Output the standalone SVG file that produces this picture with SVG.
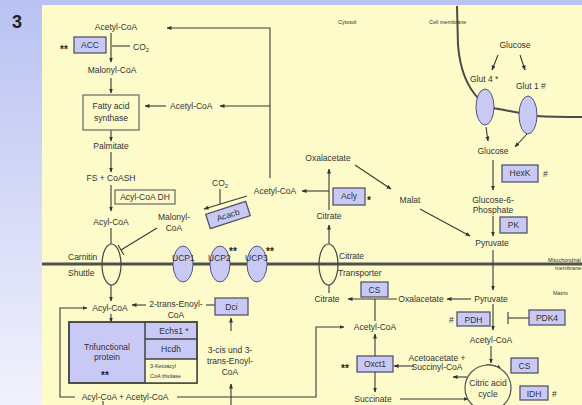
<svg xmlns="http://www.w3.org/2000/svg" width="582" height="405" viewBox="0 0 582 405">
<defs>
<linearGradient id="bg" x1="0" y1="0" x2="0" y2="1">
<stop offset="0" stop-color="#b9c2f2"/>
<stop offset="1" stop-color="#f2f2fc"/>
</linearGradient>
<marker id="ah" viewBox="0 0 10 10" refX="9" refY="5" markerWidth="5" markerHeight="5" orient="auto-start-reverse" markerUnits="userSpaceOnUse">
<path d="M0,1 L10,5 L0,9 z" fill="#333"/>
</marker>
<style>
text{font-family:"Liberation Sans",Arial,sans-serif;fill:#333;}
.t{font-size:8.5px;text-anchor:middle;}
.tl{font-size:8.5px;}
.s{font-size:5.5px;}
.m{font-size:10px;font-weight:bold;fill:#222;}
.enz{fill:#c9c9f5;stroke:#55556a;stroke-width:1.3;}
.plain{fill:#fdfbc9;stroke:#666;stroke-width:1.2;}
.tp{fill:#c9c9f5;stroke:#55557a;stroke-width:1;}
.ch{fill:none;stroke:#444;stroke-width:1.2;}
.c{fill:none;stroke:#3a3a3a;stroke-width:1.1;}
.a{fill:none;stroke:#3a3a3a;stroke-width:1.1;marker-end:url(#ah);}
.mem{fill:none;stroke:#4a4a4a;stroke-width:2;}
</style>
</defs>
<rect x="0" y="0" width="582" height="405" fill="url(#bg)"/>
<rect x="42" y="5" width="540" height="400" fill="#fdfbc9"/>
<text x="12" y="28" style="font-size:18px;font-weight:bold;fill:#222">3</text>

<g id="membranes">
<line x1="42" y1="264" x2="582" y2="264" stroke="#505050" stroke-width="3"/>
<path class="mem" d="M457,6 L458,45 C460,70 468,88 479,99"/>
<path class="mem" d="M493,108 C503,110 511,111 520,113"/>
<path class="mem" d="M536,116 C552,117 566,117 582,117"/>
<text class="s" x="338" y="24">Cytosol</text>
<text class="s" x="429" y="24">Cell membrane</text>
<text class="s" x="548" y="262">Mitochondrial</text>
<text class="s" x="555" y="270">membrane</text>
<text class="s" x="553" y="295">Matrix</text>
</g>

<g id="connectors">
<path class="a" d="M270,178 L270,28 L167,28"/>
<line class="a" x1="111" y1="33" x2="111" y2="62"/>
<line class="c" x1="112" y1="46" x2="130" y2="46"/>
<line class="a" x1="111" y1="78" x2="111" y2="93"/>
<line class="a" x1="166" y1="106" x2="145" y2="106"/>
<line class="a" x1="270" y1="106" x2="220" y2="106"/>
<line class="a" x1="111" y1="130" x2="111" y2="141"/>
<line class="a" x1="111" y1="152" x2="111" y2="172"/>
<line class="a" x1="111" y1="185" x2="111" y2="211"/>
<line class="c" x1="111" y1="228" x2="111" y2="244"/>
<line class="c" x1="157" y1="228" x2="121" y2="250"/>
<line class="c" x1="118" y1="245" x2="124" y2="255"/>
<line class="a" x1="111" y1="285" x2="111" y2="301"/>
<line class="a" x1="247" y1="196" x2="204" y2="209"/>
<line class="c" x1="220" y1="189" x2="220" y2="204"/>
<line class="a" x1="329" y1="244" x2="329" y2="225"/>
<line class="a" x1="329" y1="210" x2="329" y2="169"/>
<line class="a" x1="329" y1="191" x2="302" y2="191"/>
<line class="a" x1="355" y1="165" x2="391" y2="189"/>
<line class="a" x1="420" y1="209" x2="470" y2="236"/>
<line class="a" x1="498" y1="55" x2="492" y2="70"/>
<line class="a" x1="520" y1="55" x2="525" y2="70"/>
<line class="a" x1="486" y1="127" x2="488" y2="141"/>
<line class="a" x1="527" y1="134" x2="515" y2="147"/>
<line class="a" x1="493" y1="160" x2="493" y2="190"/>
<line class="a" x1="493" y1="216" x2="493" y2="236"/>
<line class="a" x1="493" y1="250" x2="493" y2="290"/>
<line class="a" x1="471" y1="299" x2="447" y2="299"/>
<line class="a" x1="397" y1="299" x2="348" y2="299"/>
<line class="c" x1="375" y1="299" x2="375" y2="321"/>
<line class="c" x1="329" y1="293" x2="329" y2="285"/>
<line class="a" x1="493" y1="304" x2="493" y2="330"/>
<line class="c" x1="529" y1="318" x2="508" y2="318"/>
<line class="c" x1="508" y1="312" x2="508" y2="324"/>
<line class="a" x1="491" y1="346" x2="491" y2="363"/>
<line class="a" x1="375" y1="356" x2="375" y2="334"/>
<line class="a" x1="375" y1="372" x2="375" y2="392"/>
<line class="a" x1="414" y1="366" x2="394" y2="366"/>
<line class="a" x1="467" y1="377" x2="453" y2="377"/>
<line class="a" x1="400" y1="399" x2="468" y2="399"/>
<path class="a" d="M486,365 A23,23 0 0 1 501,369"/>
<path class="a" d="M75,397 L60,397 L60,308 L87,308"/>
<path class="a" d="M177,397 L316,397 L316,327 L344,327"/>
<line class="c" x1="103" y1="401" x2="103" y2="405"/>
<line class="a" x1="231" y1="405" x2="231" y2="384"/>
<line class="a" x1="231" y1="331" x2="231" y2="318"/>
<line class="c" x1="215" y1="305" x2="206" y2="305"/>
<line class="a" x1="146" y1="305" x2="132" y2="305"/>
<line class="a" x1="111" y1="314" x2="111" y2="322"/>
</g>

<g id="acetylcoa1"><text class="t" x="116" y="30">Acetyl-CoA</text></g>
<g id="acc"><rect class="enz" x="74" y="37" width="32" height="16"/><text class="t" x="90" y="48">ACC</text><text class="m" x="60" y="53">**</text></g>
<g id="co2a"><text class="tl" x="133" y="50">CO<tspan style="font-size:6px" dy="2">2</tspan></text></g>
<g id="malonylcoa1"><text class="t" x="112" y="73">Malonyl-CoA</text></g>
<g id="fas"><rect class="plain" x="83" y="95" width="56" height="35"/><text class="t" x="111" y="109">Fatty acid</text><text class="t" x="111" y="121">synthase</text></g>
<g id="acetylcoa2"><text class="tl" x="170" y="109">Acetyl-CoA</text></g>
<g id="palmitate"><text class="t" x="111" y="149">Palmitate</text></g>
<g id="fscoash"><text class="t" x="111" y="181">FS + CoASH</text></g>
<g id="acyldh"><rect class="plain" x="115" y="190" width="60" height="14"/><text class="t" x="145" y="200">Acyl-CoA DH</text></g>
<g id="acylcoa1"><text class="t" x="111" y="225">Acyl-CoA</text></g>
<g id="malonylcoa2"><text class="t" x="174" y="220">Malonyl-</text><text class="t" x="174" y="231">CoA</text></g>
<g id="carnitin"><ellipse class="ch" cx="111.5" cy="264.5" rx="9.5" ry="20.5"/><text class="tl" x="68" y="260">Carnitin</text><text class="tl" x="68" y="276">Shuttle</text></g>
<g id="ucp1"><ellipse class="tp" cx="183" cy="264" rx="10" ry="18"/><text class="tl" x="172" y="261">UCP1</text></g>
<g id="ucp2"><ellipse class="tp" cx="220" cy="264" rx="10" ry="18"/><text class="tl" x="208" y="261">UCP2</text><text class="m" x="229" y="255">**</text></g>
<g id="ucp3"><ellipse class="tp" cx="257" cy="264" rx="10" ry="18"/><text class="tl" x="245" y="261">UCP3</text><text class="m" x="266" y="255">**</text></g>
<g id="co2b"><text class="tl" x="212" y="186">CO<tspan style="font-size:6px" dy="2">2</tspan></text></g>
<g id="acacb"><g transform="translate(228,215) rotate(-18)"><rect class="enz" x="-21" y="-7.5" width="42" height="15"/><text class="t" x="0" y="3">Acacb</text></g></g>
<g id="acetylcoa3"><text class="t" x="275" y="194">Acetyl-CoA</text></g>
<g id="oxalacetate1"><text class="t" x="328" y="161">Oxalacetate</text></g>
<g id="acly"><rect class="enz" x="333" y="188" width="32" height="17"/><text class="t" x="349" y="199">Acly</text><text class="m" x="367" y="204">*</text></g>
<g id="citrate1"><text class="t" x="329" y="219">Citrate</text></g>
<g id="malat"><text class="t" x="410" y="203">Malat</text></g>
<g id="glucose1"><text class="t" x="515" y="48">Glucose</text></g>
<g id="glut4"><ellipse class="tp" cx="485" cy="107" rx="9" ry="18"/><text class="tl" x="470" y="82">Glut 4 *</text></g>
<g id="glut1"><ellipse class="tp" cx="528" cy="115" rx="9" ry="19"/><text class="tl" x="516" y="89">Glut 1 #</text></g>
<g id="glucose2"><text class="t" x="493" y="154">Glucose</text></g>
<g id="hexk"><rect class="enz" x="502" y="165" width="36" height="17"/><text class="t" x="520" y="176">HexK</text><text class="tl" x="543" y="177">#</text></g>
<g id="g6p"><text class="t" x="493" y="203">Glucose-6-</text><text class="t" x="493" y="213">Phosphate</text></g>
<g id="pk"><rect class="enz" x="500" y="217" width="27" height="16"/><text class="t" x="513.5" y="228">PK</text></g>
<g id="pyruvate1"><text class="t" x="492" y="246">Pyruvate</text></g>
<g id="citratetransporter"><ellipse class="ch" cx="328.5" cy="264.5" rx="9.5" ry="20.5"/><text class="tl" x="339" y="259">Citrate</text><text class="tl" x="338" y="276">Transporter</text></g>
<g id="pyruvate2"><text class="t" x="491" y="302">Pyruvate</text></g>
<g id="oxalacetate2"><text class="t" x="421" y="302">Oxalacetate</text></g>
<g id="cs1"><rect class="enz" x="361" y="282" width="27" height="15"/><text class="t" x="374.5" y="292.5">CS</text></g>
<g id="citrate2"><text class="t" x="327" y="302">Citrate</text></g>
<g id="acetylcoa4"><text class="t" x="375" y="330">Acetyl-CoA</text></g>
<g id="acylcoa2"><text class="t" x="110" y="311">Acyl-CoA</text></g>
<g id="enoylcoa"><text class="t" x="176" y="307">2-trans-Enoyl-</text><text class="t" x="176" y="318">CoA</text></g>
<g id="dci"><rect class="enz" x="215" y="298" width="33" height="17"/><text class="t" x="231.5" y="309.5">Dci</text></g>
<g id="cisenoyl"><text class="t" x="230" y="353">3-cis und 3-</text><text class="t" x="230" y="364">trans-Enoyl-</text><text class="t" x="230" y="375">CoA</text></g>
<g id="trifunctional">
<rect x="69" y="322" width="128" height="61" fill="#c9c9f5" stroke="#444" stroke-width="1.5"/>
<rect x="145" y="359" width="52" height="24" fill="#fdfbc9"/>
<path d="M145,322 L145,383 M145,339 L197,339 M145,359 L197,359" stroke="#444" stroke-width="1.5" fill="none"/>
<rect x="69" y="322" width="128" height="61" fill="none" stroke="#444" stroke-width="1.5"/>
<text class="t" x="107" y="350">Trifunctional</text>
<text class="t" x="107" y="360">protein</text>
<text class="m" x="101" y="379">**</text>
<text class="t" x="174" y="334">Echs1 *</text>
<text class="t" x="171" y="352">Hcdh</text>
<text class="s" x="150" y="368">3-Ketoacyl</text>
<text class="s" x="150" y="378">CoA thiolase</text>
</g>
<g id="acylacetyl"><text class="t" x="125" y="400">Acyl-CoA + Acetyl-CoA</text></g>
<g id="pdh"><rect class="enz" x="457" y="312" width="33" height="14"/><text class="t" x="473.5" y="322.5">PDH</text><text class="tl" x="449" y="323">#</text></g>
<g id="pdk4"><rect class="enz" x="529" y="310" width="36" height="15"/><text class="t" x="547" y="320.5">PDK4</text></g>
<g id="acetylcoa5"><text class="t" x="491" y="343">Acetyl-CoA</text></g>
<g id="acetoacetate"><text class="t" x="437" y="361">Acetoacetate +</text><text class="t" x="437" y="370">Succinyl-CoA</text></g>
<g id="oxct"><rect class="enz" x="357" y="356" width="36" height="16"/><text class="t" x="375" y="367">Oxct1</text><text class="m" x="341" y="372">**</text></g>
<g id="succinate"><text class="t" x="373" y="402">Succinate</text></g>
<g id="tca"><circle cx="488" cy="388" r="23" fill="#fdfbc9" stroke="#555" stroke-width="1.2"/><text class="t" x="488" y="386">Citric acid</text><text class="t" x="488" y="397">cycle</text></g>
<g id="cs2"><rect class="enz" x="511" y="358" width="27" height="15"/><text class="t" x="524.5" y="368.5">CS</text></g>
<g id="idh"><rect class="enz" x="520" y="386" width="28" height="14"/><text class="t" x="534" y="396.5">IDH</text><text class="tl" x="552" y="397">#</text></g>
</svg>
